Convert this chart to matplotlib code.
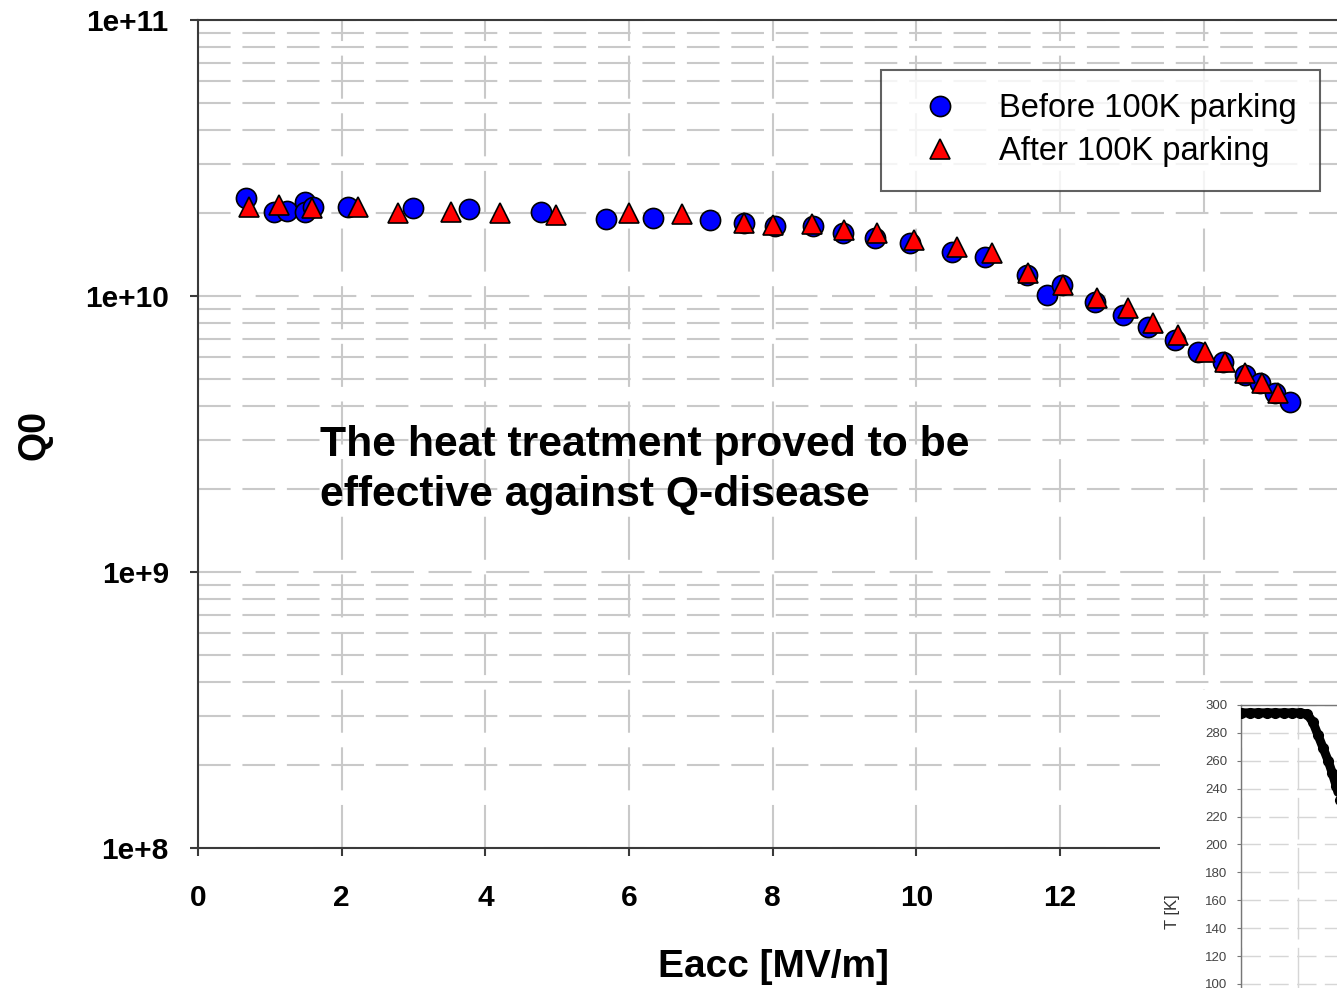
# =========================================================
# Q0 vs Eacc before / after 100K parking
# =========================================================

import matplotlib
matplotlib.use("Agg")
import matplotlib.pyplot as plt
from matplotlib.ticker import LogLocator, NullFormatter


# =========================================================
# Data
# =========================================================

before_eacc = [
    0.67, 1.06, 1.24, 1.49, 1.49, 1.60, 2.09, 2.99, 3.77, 4.78,
    5.68, 6.33, 7.13, 7.60, 8.03, 8.56, 8.98, 9.43, 9.91, 10.50,
    10.96, 11.54, 11.82, 12.03, 12.49, 12.88, 13.23, 13.60, 13.92,
    14.27, 14.58, 14.79, 14.99, 15.20
]

before_q0 = [
    2.26e10, 2.01e10, 2.03e10, 2.19e10, 2.01e10, 2.10e10, 2.10e10,
    2.08e10, 2.07e10, 2.01e10, 1.90e10, 1.92e10, 1.88e10, 1.84e10,
    1.79e10, 1.79e10, 1.69e10, 1.62e10, 1.56e10, 1.44e10, 1.38e10,
    1.19e10, 1.01e10, 1.10e10, 9.51e9, 8.53e9, 7.71e9, 6.92e9,
    6.26e9, 5.76e9, 5.17e9, 4.83e9, 4.45e9, 4.12e9
]

after_eacc = [
    0.71, 1.13, 1.59, 2.23, 2.78, 3.52, 4.20, 4.98, 6.00, 6.74,
    7.60, 8.00, 8.55, 8.99, 9.45, 9.97, 10.57, 11.05, 11.56, 12.04,
    12.52, 12.95, 13.30, 13.64, 14.02, 14.30, 14.58, 14.81, 15.04
]

after_q0 = [
    2.10e10, 2.13e10, 2.08e10, 2.10e10, 2.00e10, 2.01e10, 2.00e10,
    1.96e10, 2.00e10, 1.98e10, 1.84e10, 1.81e10, 1.82e10, 1.73e10,
    1.69e10, 1.60e10, 1.50e10, 1.43e10, 1.21e10, 1.10e10, 9.83e9,
    9.03e9, 7.98e9, 7.22e9, 6.26e9, 5.76e9, 5.26e9, 4.83e9, 4.45e9
]

# inset: temperature during cool-down (arbitrary time units)
inset_time = [
    0.00, 0.15, 0.30, 0.45, 0.60, 0.75, 0.90, 1.04, 1.16,
    1.26, 1.35, 1.44, 1.53, 1.60, 1.67, 1.74
]

inset_temp = [
    294.3, 294.3, 294.3, 294.3, 294.3, 294.3, 294.3, 294.3, 293.5,
    287.8, 278.5, 269.2, 259.9, 251.3, 241.9, 231.9
]

y_tick_values = [1e8, 1e9, 1e10, 1e11]
y_tick_labels = ["1e+8", "1e+9", "1e+10", "1e+11"]
x_tick_values = [0, 2, 4, 6, 8, 10, 12, 14, 16]
# 14 and 16 sit under the inset in the original
x_tick_labels = ["0", "2", "4", "6", "8", "10", "12", "", ""]
inset_ticks = [100, 120, 140, 160, 180, 200, 220, 240, 260, 280, 300]

legend_labels = ["Before 100K parking", "After 100K parking"]
note_text = "The heat treatment proved to be\neffective against Q-disease"


# =========================================================
# Style
# =========================================================

plt.rcParams["font.family"] = ["Liberation Sans", "DejaVu Sans"]
plt.rcParams["lines.scale_dashes"] = False

GRID_COLOR = "#c9c9c9"
AXIS_COLOR = "#3a3a3a"


# =========================================================
# Main axes
# =========================================================

fig = plt.figure(figsize=(13.37, 9.88), dpi=100)

ax = fig.add_axes([0.14809, 0.1417, 0.8596, 0.83806])

ax.set_yscale("log")
ax.set_ylim(1e8, 1e11)
ax.set_xlim(0, 16)

ax.set_yticks(y_tick_values, labels=y_tick_labels)
ax.yaxis.set_minor_locator(LogLocator(base=10, subs=range(2, 10)))
ax.yaxis.set_minor_formatter(NullFormatter())
ax.set_xticks(x_tick_values, labels=x_tick_labels)

ax.tick_params(
    axis="both", which="major", direction="out",
    length=6, width=1.5, color=AXIS_COLOR,
    labelsize=21.5, pad=15
)
ax.tick_params(axis="x", which="major", pad=20)
ax.tick_params(axis="y", which="minor", length=0)

for label in ax.get_xticklabels() + ax.get_yticklabels():
    label.set_fontweight("bold")

for side in ["left", "bottom", "top"]:
    ax.spines[side].set_color(AXIS_COLOR)
    ax.spines[side].set_linewidth(1.5)
ax.spines["right"].set_visible(False)

# grid
ax.yaxis.grid(True, which="minor", color=GRID_COLOR, linewidth=1.5,
              linestyle=(0, (23.5, 8.5)))
ax.yaxis.grid(True, which="major", color=GRID_COLOR, linewidth=1.5,
              linestyle=(0, (31, 10.5)))
ax.xaxis.grid(True, which="major", color=GRID_COLOR, linewidth=1.5,
              linestyle=(0, (31, 10.5)))
ax.set_axisbelow(True)


# =========================================================
# Data series
# =========================================================

ax.plot(
    before_eacc, before_q0, linestyle="none",
    marker="o", markersize=14.5, markerfacecolor="#0000ff",
    markeredgecolor="black", markeredgewidth=1.2,
    label=legend_labels[0], zorder=3
)

ax.plot(
    after_eacc, after_q0, linestyle="none",
    marker="^", markersize=14.5, markerfacecolor="#ff0000",
    markeredgecolor="black", markeredgewidth=1.2,
    label=legend_labels[1], zorder=4
)

legend = ax.legend(
    loc="upper left",
    bbox_to_anchor=(881 / 1337, 1 - 70 / 988),
    bbox_transform=fig.transFigure,
    fontsize=23.5, frameon=True, fancybox=False,
    borderpad=0.72, borderaxespad=0, handlelength=2.2,
    handletextpad=0.7, labelspacing=0.36, numpoints=1
)
legend.get_frame().set_edgecolor(AXIS_COLOR)
legend.get_frame().set_linewidth(1.5)
legend.set_zorder(6)


# =========================================================
# Labels and note
# =========================================================

fig.text(773 / 1337, 1 - 967 / 988, "Eacc [MV/m]",
         ha="center", va="center", fontsize=28, fontweight="bold")

fig.text(35 / 1337, 1 - 435 / 988, "Q0", rotation=90,
         ha="center", va="center", fontsize=27, fontweight="bold")

fig.text(320 / 1337, 1 - 470 / 988, note_text,
         ha="left", va="center", fontsize=30.7, fontweight="bold",
         linespacing=1.33)


# =========================================================
# Inset (temperature during cool-down), cut by the page edge
# =========================================================

cover = fig.add_axes([1160 / 1337, 0, 177 / 1337, 298 / 988])
cover.set_facecolor("white")
cover.set_xticks([])
cover.set_yticks([])
for side in cover.spines.values():
    side.set_visible(False)

inset = fig.add_axes([1241 / 1337, -0.1371, 171 / 1337, 0.4236])
inset.set_xlim(0, 3)
inset.set_ylim(0, 300)
inset.set_yticks(inset_ticks)
inset.set_xticks([0, 1, 2, 3])
inset.tick_params(axis="x", length=0, labelbottom=False)
inset.tick_params(axis="y", direction="out", length=3, width=0.8,
                  color="#777777", labelsize=9.5, labelcolor="#444444",
                  pad=7)
inset.yaxis.grid(True, color="#d6d6d6", linewidth=1,
                 linestyle=(0, (14, 6)))
inset.xaxis.grid(True, color="#d6d6d6", linewidth=1,
                 linestyle=(0, (30, 6)))
inset.set_axisbelow(True)
for side in inset.spines.values():
    side.set_color("#777777")
    side.set_linewidth(1)

inset.plot(inset_time, inset_temp, color="black", linewidth=6.5,
           marker="o", markersize=7, solid_capstyle="round", zorder=3)

fig.text(1172 / 1337, 1 - 912 / 988, "T [K]", rotation=90,
         ha="center", va="center", fontsize=12, color="#333333")


# =========================================================
# Save
# =========================================================

fig.savefig("out.png", dpi=100)
print("Saved out.png")
